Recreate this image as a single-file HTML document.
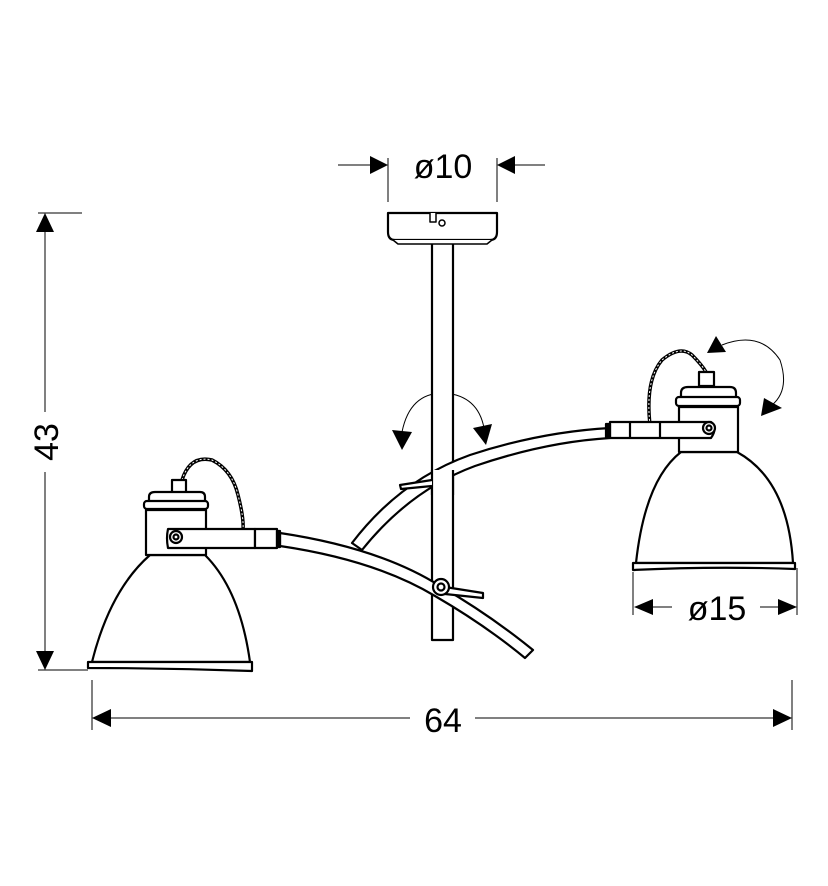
<!DOCTYPE html>
<html><head><style>body{margin:0;background:#fff}svg{display:block}text{font-family:"Liberation Sans",sans-serif;fill:#000}</style></head>
<body>
<svg width="828" height="886" viewBox="0 0 828 886" xmlns="http://www.w3.org/2000/svg">
<g fill="none" stroke="#000" stroke-width="1">
<!-- top dim -->
<line x1="338" y1="165" x2="370" y2="165"/><line x1="515" y1="165" x2="545" y2="165"/>
<line x1="388" y1="158" x2="388" y2="202"/><line x1="497" y1="158" x2="497" y2="202"/>
<!-- left dim -->
<line x1="38" y1="213" x2="82" y2="213"/><line x1="38" y1="670" x2="88" y2="670"/>
<line x1="45" y1="230" x2="45" y2="412"/><line x1="45" y1="472" x2="45" y2="652"/>
<!-- bottom dim -->
<line x1="92" y1="680" x2="92" y2="730"/><line x1="792" y1="680" x2="792" y2="730"/>
<line x1="110" y1="718" x2="410" y2="718"/><line x1="475" y1="718" x2="774" y2="718"/>
<!-- o15 -->
<line x1="633" y1="572" x2="633" y2="615"/><line x1="797" y1="568" x2="797" y2="615"/>
<line x1="652" y1="607" x2="672" y2="607"/><line x1="760" y1="607" x2="780" y2="607"/>
<!-- rotation arcs -->
<path d="M402 432 Q410 392 445 393 Q478 396 484 428"/>
<path d="M722 345 Q760 330 780 360 Q790 390 772 405"/>
</g>
<g fill="#000">
<polygon points="388,165 370,156 370,174"/><polygon points="497,165 515,156 515,174"/>
<polygon points="45,213 36,232 54,232"/><polygon points="45,670 36,651 54,651"/>
<polygon points="92,718 111,709 111,727"/><polygon points="792,718 773,709 773,727"/>
<polygon points="634,607 653,599 653,615"/><polygon points="797,607 778,599 778,615"/>
<polygon points="392,430 412,432 402,450"/><polygon points="473,428 492,424 486,445"/>
<polygon points="707,353 716,336 726,352"/><polygon points="761,416 764,398 782,408"/>
</g>
<text x="443" y="178" font-size="34" text-anchor="middle">ø10</text>
<text x="443" y="732" font-size="34" text-anchor="middle">64</text>
<text x="717" y="620" font-size="34" text-anchor="middle">ø15</text>
<text transform="translate(58,442) rotate(-90)" font-size="34" text-anchor="middle">43</text>
<g fill="#fff" stroke="#000" stroke-width="2.2" stroke-linejoin="round">
<!-- rod -->
<rect x="432" y="243" width="21" height="397"/>
<!-- canopy -->
<path d="M388 213 H497 V232 Q497 240 490 240 H395 Q388 240 388 232 Z"/>
<path d="M393 240 L398 244 H487 L492 240" stroke-width="1.5"/>
<path d="M430 213 V222 H436 V213" stroke-width="1.5"/><circle cx="442" cy="223" r="3" stroke-width="1.5"/>
<!-- upper branch (to right arm) -->
<path d="M352 543 Q400 480 470 455 Q540 432 610 428 L610 438 Q545 442 475 466 Q410 490 362 550 Z"/>
<!-- lower branch -->
<path d="M280 533 Q380 548 440 586 Q490 615 533 650 L525 658 Q485 625 435 596 Q375 560 280 546 Z"/>
<line x1="440" y1="478" x2="440" y2="490" stroke-width="1"/>
<rect x="432" y="470" width="21" height="25" stroke="none"/>
<line x1="432" y1="470" x2="432" y2="495"/><line x1="453" y1="470" x2="453" y2="495"/>
<path d="M432 480 L400 485 L401 489 L432 486"/>
<path d="M445 587 L483 593 L483 598 L445 594 Z"/>
<circle cx="441" cy="587" r="8"/><circle cx="441" cy="587" r="3.5"/>
<!-- left lamp -->
<path d="M182 480 Q190 455 212 460 Q232 470 238 495 Q244 518 243 530" stroke-width="3.5" fill="none"/>
<path d="M182 480 Q190 455 212 460 Q232 470 238 495 Q244 518 243 530" stroke="#fff" stroke-width="1" fill="none" stroke-dasharray="2 2"/>
<rect x="172" y="480" width="14" height="13"/>
<path d="M150 555 Q110 590 92 662 H250 Q240 590 205 555 Z"/>
<path d="M88 662 H252 V671 Q170 668 88 668 Z"/>
<rect x="146" y="510" width="60" height="45"/>
<path d="M149 510 V497 Q149 492 155 492 H200 Q205 492 205 497 V510"/>
<rect x="144" y="501" width="64" height="8" rx="3"/>
<path d="M168 529 H255 V548 H168 Q166 538 168 529 Z"/>
<rect x="255" y="529" width="22" height="19"/><rect x="277" y="531" width="3" height="16" fill="#000"/>
<circle cx="176" cy="537" r="6"/><circle cx="176" cy="537" r="2.5"/>
<!-- right lamp -->
<path d="M650 425 Q645 380 662 360 Q680 345 692 355 Q702 365 706 372" stroke-width="3.5" fill="none"/>
<path d="M650 425 Q645 380 662 360 Q680 345 692 355 Q702 365 706 372" stroke="#fff" stroke-width="1" fill="none" stroke-dasharray="2 2"/>
<rect x="699" y="372" width="15" height="14"/>
<path d="M681 452 Q645 480 636 563 H793 Q788 480 737 452 Z"/>
<path d="M633 563 H795 V569 Q715 566 633 570 Z"/>
<rect x="679" y="407" width="59" height="45"/>
<path d="M681 407 V393 Q681 387 688 387 H730 Q736 387 736 393 V407"/>
<rect x="676" y="397" width="64" height="9" rx="3"/>
<path d="M610 422 H711 Q718 428 711 438 H610 Z"/>
<line x1="630" y1="422" x2="630" y2="438"/><line x1="660" y1="422" x2="660" y2="438"/>
<rect x="606" y="424" width="4" height="13" fill="#000"/>
<circle cx="709" cy="428" r="6"/><circle cx="709" cy="428" r="2.5"/>
</g>
</svg>
</body></html>
